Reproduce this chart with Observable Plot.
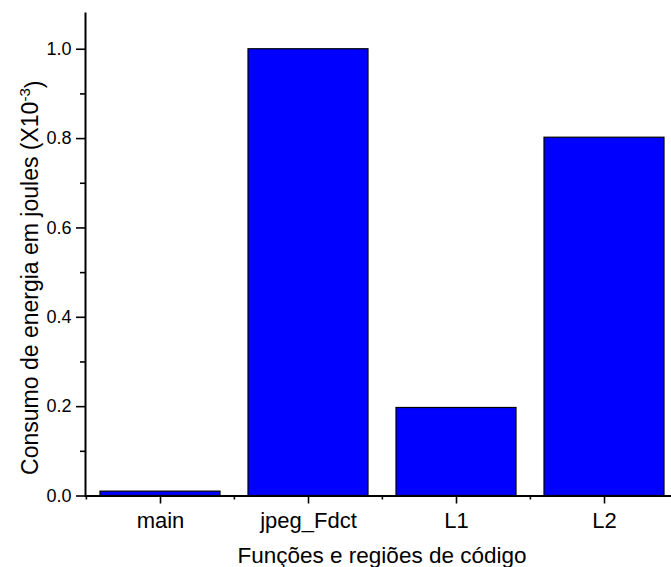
<!DOCTYPE html>
<html>
<head>
<meta charset="utf-8">
<script src="https://cdn.jsdelivr.net/npm/d3@7"></script>
<script src="https://cdn.jsdelivr.net/npm/@observablehq/plot@0.6"></script>
<style>
  html, body { margin: 0; padding: 0; background: white; }
</style>
</head>
<body>
<div id="chart"></div>
<script>
const categories = ["main", "jpeg_Fdct", "L1", "L2"];
const values = [0.0098, 1.0, 0.197, 0.802];
const yMajorTicks = [0, 0.2, 0.4, 0.6, 0.8, 1.0];
const yMinorTicks = [0.1, 0.3, 0.5, 0.7, 0.9];
const yDomain = [0, 1.08];
const xTitle = "Funções e regiões de código";
const yTitleMain = "Consumo de energia em joules (X10";
const yTitleSup = "-3";
const yTitleEnd = ")";

const data = categories.map((c, i) => ({cat: c, val: values[i]}));

const W = 671, H = 567;
const mL = 85, mR = -7, mT = 13, mB = 71.5;
const step = (W - mR - mL) / categories.length;
const font = "'Liberation Sans', Arial, Helvetica, sans-serif";

const chart = Plot.plot({
  width: W,
  height: H,
  marginLeft: mL,
  marginRight: mR,
  marginTop: mT,
  marginBottom: mB,
  style: {fontFamily: font, background: "white", color: "black"},
  x: {domain: categories, paddingInner: 0.19, paddingOuter: 0.095, label: null},
  y: {domain: yDomain, label: null},
  marks: [
    Plot.barY(data, {x: "cat", y: "val", fill: "#0000ff", stroke: "black", strokeWidth: 1.2}),
    Plot.axisY({ticks: yMajorTicks, tickSize: 9, tickPadding: 5, tickFormat: d3.format(".1f"), fontSize: 18, strokeWidth: 1.6, label: null}),
    Plot.axisY({ticks: yMinorTicks, tickSize: 5, text: null, strokeWidth: 1.6, label: null}),
    Plot.axisX({tickSize: 8, tickPadding: 8, fontSize: 22, strokeWidth: 1.6, label: null}),
    Plot.axisX({tickSize: 4, text: null, dx: -step / 2, strokeWidth: 1.6, label: null}),
    Plot.ruleY([0], {strokeWidth: 2}),
    Plot.frame({anchor: "left", strokeWidth: 2}),
    Plot.text([xTitle], {frameAnchor: "bottom", dy: 67, fontSize: 22.5}),
    Plot.text([yTitleMain], {frameAnchor: "left", textAnchor: "middle", rotate: -90, dx: -55, dy: 23, fontSize: 23})
  ]
});

d3.select(chart).selectAll("text").filter(function () { return this.textContent === yTitleMain; })
  .each(function () {
    const t = d3.select(this);
    t.text(null);
    t.append("tspan").text(yTitleMain);
    t.append("tspan").attr("dy", "-0.55em").attr("font-size", 15).text(yTitleSup);
    t.append("tspan").attr("dy", "0.55em").text(yTitleEnd);
  });

document.getElementById("chart").appendChild(chart);
</script>
</body>
</html>
